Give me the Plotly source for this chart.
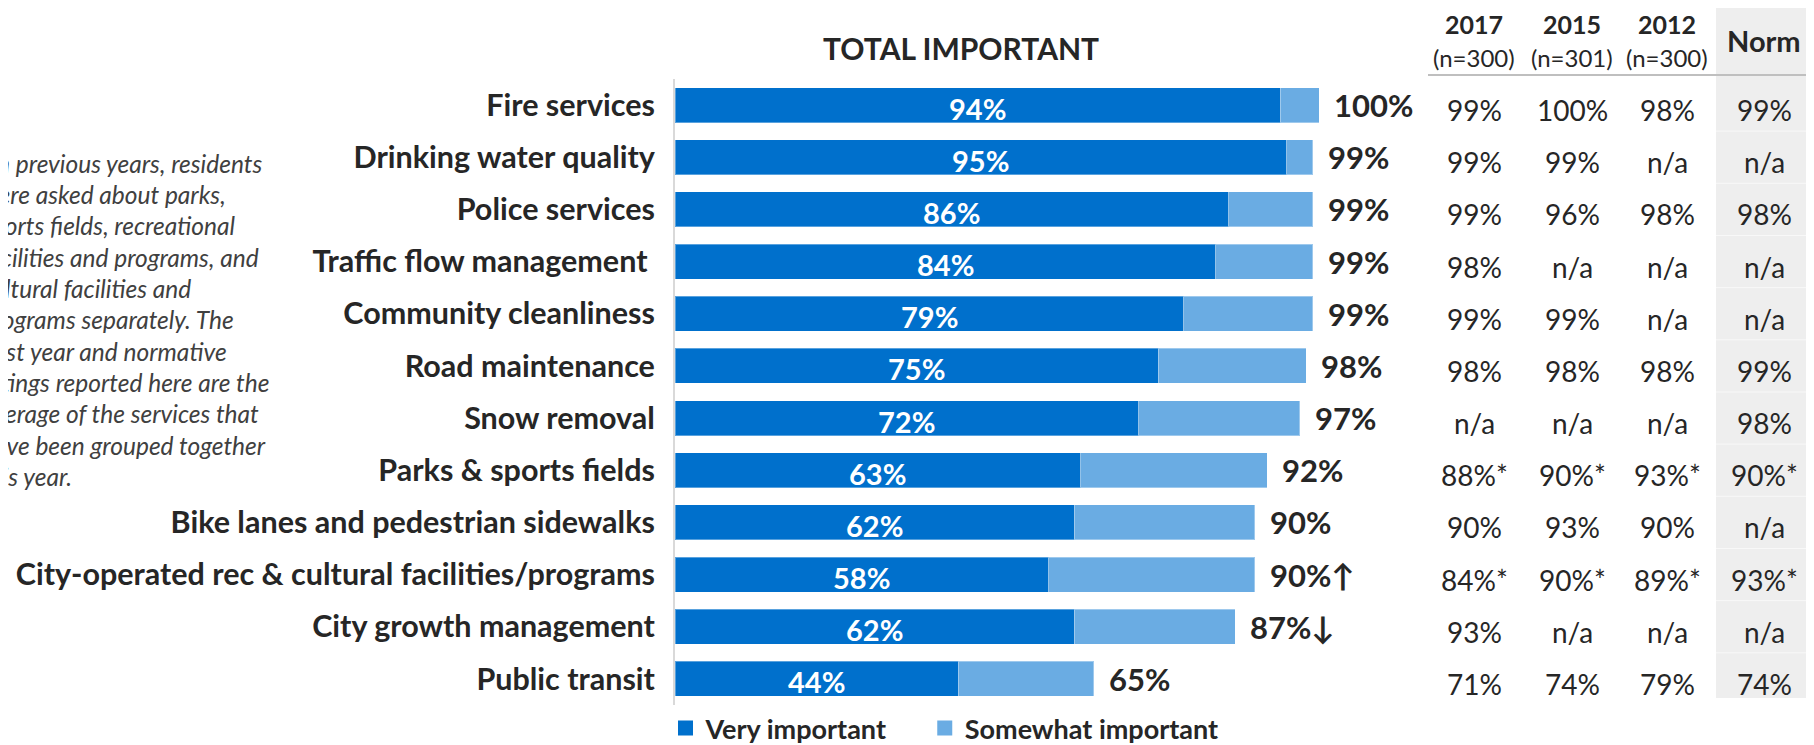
import plotly.graph_objects as go

# The page adds an 8px body margin, so the figure is drawn 8px smaller
# and all reference pixel positions are shifted by that offset.
OFF = 8
REF_W, REF_H = 1814, 745
W, H = REF_W - OFF, REF_H - OFF

categories = [
    "Fire services",
    "Drinking water quality",
    "Police services",
    "Traffic flow management ",
    "Community cleanliness",
    "Road maintenance",
    "Snow removal",
    "Parks & sports fields",
    "Bike lanes and pedestrian sidewalks",
    "City-operated rec & cultural facilities/programs",
    "City growth management",
    "Public transit",
]
very_important = [94, 95, 86, 84, 79, 75, 72, 63, 62, 58, 62, 44]
somewhat_important = [6, 4, 13, 15, 20, 23, 25, 29, 28, 32, 25, 21]
trend_marks = ["", "", "", "", "", "", "", "", "", "↑", "↓", ""]
series_names = ["Very important", "Somewhat important"]

col_headers = ["2017", "2015", "2012"]
col_samples = ["(n=300)", "(n=301)", "(n=300)"]
col_2017 = ["99%", "99%", "99%", "98%", "99%", "98%", "n/a", "88%*", "90%", "84%*", "93%", "71%"]
col_2015 = ["100%", "99%", "96%", "n/a", "99%", "98%", "n/a", "90%*", "93%", "90%*", "n/a", "74%"]
col_2012 = ["98%", "n/a", "98%", "n/a", "n/a", "98%", "n/a", "93%*", "90%", "89%*", "n/a", "79%"]
col_norm = ["99%", "n/a", "98%", "n/a", "n/a", "99%", "98%", "90%*", "n/a", "93%*", "n/a", "74%"]

note_lines = [
    "*In previous years, residents",
    "were asked about parks,",
    "sports fields, recreational",
    "facilities and programs, and",
    "cultural facilities and",
    "programs separately. The",
    "Past year and normative",
    "ratings reported here are the",
    "average of the services that",
    "have been grouped together",
    "this year.",
]

DARK = "#0070CC"
LIGHT = "#6AACE3"
TXT = "#262626"
FONT = "Lato"


def px_x(p):
    return (p - OFF) / W


def px_y(p):
    return 1 - (p - OFF) / H


axis_left = 675
px_per_pct = 6.44
x_max = (REF_W - axis_left) / px_per_pct

fig = go.Figure()
fig.add_trace(go.Bar(
    y=categories, x=very_important, orientation="h", name=series_names[0],
    marker=dict(color=DARK, line=dict(color="rgba(255,255,255,0.35)", width=1)),
    hoverinfo="skip", showlegend=False,
))
fig.add_trace(go.Bar(
    y=categories, x=somewhat_important, orientation="h", name=series_names[1],
    marker=dict(color=LIGHT, line=dict(color="rgba(255,255,255,0.35)", width=1)),
    hoverinfo="skip", showlegend=False,
))
# legend entries with square swatches
legend_labels = [series_names[0] + "\u00a0" * 5, series_names[1]]
for lbl, col in zip(legend_labels, [DARK, LIGHT]):
    fig.add_trace(go.Scatter(
        x=[None], y=[None], mode="markers", name=lbl,
        marker=dict(symbol="square", size=15, color=col), hoverinfo="skip",
    ))

annotations = []
# labels inside the dark segment
for cat, v in zip(categories, very_important):
    annotations.append(dict(
        x=v / 2, y=cat, xref="x", yref="y", xanchor="center", yanchor="middle",
        yshift=-3, text=f"{v}%", showarrow=False,
        font=dict(size=29, family=FONT, color="white", weight="bold"),
    ))
# totals
for cat, v, s, t in zip(categories, very_important, somewhat_important, trend_marks):
    annotations.append(dict(
        x=v + s, y=cat, xref="x", yref="y", xanchor="left", yanchor="middle",
        xshift=13, text=f"{v + s}%{t}", showarrow=False,
        font=dict(size=31, family=FONT, color=TXT, weight="bold"),
    ))

# table
col_x = [1474, 1572, 1667, 1764]
for cx, col in zip(col_x, [col_2017, col_2015, col_2012, col_norm]):
    for cat, val in zip(categories, col):
        annotations.append(dict(
            x=px_x(cx), y=cat, xref="paper", yref="y", xanchor="center",
            yanchor="middle", yshift=-5, text=val, showarrow=False,
            font=dict(size=28, family=FONT, color=TXT),
        ))
for cx, h, n in zip(col_x, col_headers, col_samples):
    annotations.append(dict(
        x=px_x(cx), y=px_y(24), xref="paper", yref="paper", xanchor="center",
        yanchor="middle", text=h, showarrow=False,
        font=dict(size=25, family=FONT, color=TXT, weight="bold"),
    ))
    annotations.append(dict(
        x=px_x(cx), y=px_y(57), xref="paper", yref="paper", xanchor="center",
        yanchor="middle", text=n, showarrow=False,
        font=dict(size=24, family=FONT, color=TXT),
    ))
annotations.append(dict(
    x=px_x(1764), y=px_y(40), xref="paper", yref="paper", xanchor="center",
    yanchor="middle", text="Norm", showarrow=False,
    font=dict(size=29, family=FONT, color=TXT, weight="bold"),
))

# title
annotations.append(dict(
    x=px_x(961), y=px_y(48), xref="paper", yref="paper", xanchor="center",
    yanchor="middle", text="TOTAL IMPORTANT", showarrow=False,
    font=dict(size=30, family=FONT, color=TXT, weight="bold"),
))

# note (partly cut off at the left edge, as in the reference)
for i, line in enumerate(note_lines):
    annotations.append(dict(
        x=px_x(-21), y=px_y(163 + 31.35 * i), xref="paper", yref="paper",
        xanchor="left", yanchor="middle", text=f"<i>{line}</i>", showarrow=False,
        font=dict(size=24.5, family=FONT, color="#404040"),
    ))

shapes = [
    dict(type="rect", xref="paper", yref="paper", x0=px_x(1716), x1=px_x(1812),
         y0=px_y(698), y1=px_y(0), fillcolor="#EEEEEE", line=dict(width=0), layer="below"),
    dict(type="line", xref="paper", yref="paper", x0=px_x(1428), x1=px_x(1812),
         y0=px_y(3), y1=px_y(3), line=dict(color="#BFBFBF", width=2)),
    dict(type="line", xref="paper", yref="paper", x0=px_x(1428), x1=px_x(1812),
         y0=px_y(75), y1=px_y(75), line=dict(color="#BFBFBF", width=2)),
]
for i in range(len(categories) - 1):
    shapes.append(dict(type="line", xref="paper", yref="y", x0=px_x(1716), x1=px_x(1812),
                       y0=i + 0.5, y1=i + 0.5, line=dict(color="#F8F8F8", width=1)))

fig.update_layout(
    width=W, height=H,
    margin=dict(l=0, r=0, t=0, b=0, autoexpand=False),
    paper_bgcolor="white", plot_bgcolor="rgba(0,0,0,0)",
    barmode="stack", bargap=0.33,
    font=dict(family=FONT, color=TXT),
    xaxis=dict(domain=[px_x(axis_left), 1], range=[0, x_max], visible=False, fixedrange=True),
    yaxis=dict(domain=[px_y(705), px_y(79)], autorange="reversed", showline=True,
               linecolor="#D9D9D9", linewidth=2, ticks="", ticklabelstandoff=12,
               tickfont=dict(size=30.5, family=FONT, color=TXT, weight="bold"),
               showgrid=False, zeroline=False),
    legend=dict(orientation="h", x=px_x(665.5), y=px_y(753), xanchor="left", yanchor="bottom",
                font=dict(size=27, family=FONT, color=TXT, weight="bold"),
                traceorder="normal", bgcolor="rgba(0,0,0,0)"),
    annotations=annotations, shapes=shapes,
)

fig.write_html("out.html")
